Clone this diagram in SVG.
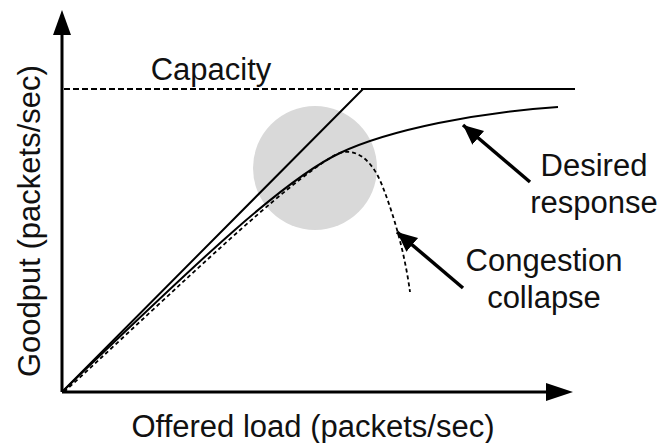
<svg xmlns="http://www.w3.org/2000/svg" width="661" height="443" viewBox="0 0 661 443">
<style>
text{font-family:"Liberation Sans",Arial,sans-serif;font-size:31px;fill:#111}
.ln{fill:none;stroke:#000;stroke-width:2}
.dash{fill:none;stroke:#000;stroke-width:2;stroke-dasharray:6 3}
.dash2{fill:none;stroke:#000;stroke-width:1.8;stroke-dasharray:4 3}
.ptr{fill:none;stroke:#000;stroke-width:3.5}
.axis{fill:none;stroke:#000;stroke-width:3}
</style>
<defs>
<marker id="ah" markerUnits="userSpaceOnUse" markerWidth="22" markerHeight="20" refX="20" refY="9" orient="auto">
<path d="M0,0 L20,9 L0,18 Z" fill="#000"/>
</marker>
</defs>
<rect width="661" height="443" fill="#fff"/>
<circle id="region" cx="315" cy="168" r="62" fill="#d9d9d9"/>
<g id="axes">
<path class="axis" d="M62,392 V33"/>
<path d="M53,35 L62,10 L71,35 Z" fill="#000"/>
<path class="axis" d="M62,392 H548"/>
<path d="M546,383 L573,392 L546,401 Z" fill="#000"/>
</g>
<g id="connectors">
<path class="dash" d="M64,89 H363"/>
<path class="ln" d="M62,392 L363,89 H575"/>
<path class="ln" d="M62,392 C182,277 280,181 340,153 C390,129.5 480,112 558,107"/>
<path class="dash2" d="M64,392 C185,281 282,186 335,155 C355,145 372,160 382,185 C395,218 405,255 410,292"/>
<path class="ptr" d="M530,182 L463,125" marker-end="url(#ah)"/>
<path class="ptr" d="M463,288 L397,232" marker-end="url(#ah)"/>
</g>
<g id="label-capacity"><text x="211" y="80" text-anchor="middle">Capacity</text></g>
<g id="label-desired"><text x="594" y="176" text-anchor="middle">Desired</text><text x="594" y="213" text-anchor="middle">response</text></g>
<g id="label-congestion"><text x="544" y="271" text-anchor="middle">Congestion</text><text x="544" y="308" text-anchor="middle">collapse</text></g>
<g id="label-x"><text x="313" y="437" text-anchor="middle">Offered load (packets/sec)</text></g>
<g id="label-y"><text transform="translate(40,377) rotate(-90)">Goodput (packets/sec)</text></g>
</svg>
